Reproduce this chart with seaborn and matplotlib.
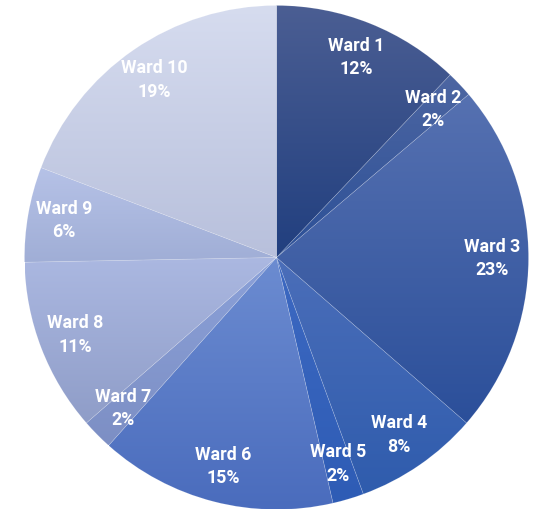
import matplotlib
matplotlib.use("Agg")
import matplotlib.pyplot as plt
import seaborn as sns
import numpy as np
from matplotlib.colors import to_rgb

wards = ['Ward 1', 'Ward 2', 'Ward 3', 'Ward 4', 'Ward 5',
         'Ward 6', 'Ward 7', 'Ward 8', 'Ward 9', 'Ward 10']
shares = [12.1, 1.7, 22.6, 8.0, 2.0, 15.2, 2.0, 11.1, 6.1, 19.2]

# gradient for each slice: colour at the top, colour at the bottom
top_colors = ['#4b5e93', '#4d66a2', '#5671b1', '#4b6eb9', '#3d69c2',
              '#6c8cd1', '#8ba1d9', '#abb8e1', '#b6c2e7', '#d6dcef']
bottom_colors = ['#213f7f', '#2c5097', '#2b4f9a', '#2f5cad', '#2e5cb5',
                 '#4a6cbd', '#7d8fc4', '#8f9dc8', '#a0aed6', '#b8c0dc']

sns.set_style("white")
plt.rcParams['font.family'] = ['Roboto', 'DejaVu Sans']

W, H = 546, 516
cx, cy, R = 276.5, 257.5, 252

fig = plt.figure(figsize=(W / 100, H / 100), dpi=100)
ax = fig.add_axes([0, 0, 1, 1])

wedges, _ = ax.pie(shares, startangle=90, counterclock=False, radius=1,
                   colors=sns.blend_palette(['#213f7f', '#d6dcef'], len(shares)),
                   wedgeprops=dict(linewidth=0))

total = sum(shares)
for w, name, v, ct, cb in zip(wedges, wards, shares, top_colors, bottom_colors):
    ext = w.get_path().get_extents()
    t = np.linspace(0, 1, 256)[:, None, None]
    grad = (1 - t) * np.array(to_rgb(ct)) + t * np.array(to_rgb(cb))
    im = ax.imshow(grad, extent=[ext.x0, ext.x1, ext.y0, ext.y1], origin='upper',
                   aspect='auto', interpolation='bilinear', zorder=2)
    im.set_clip_path(w)
    w.set_facecolor('none')
    w.set_edgecolor((1, 1, 1, 0.15))
    w.set_linewidth(0.5)
    w.set_zorder(3)

    ang = np.deg2rad((w.theta1 + w.theta2) / 2)
    r = 0.855
    ax.text(r * np.cos(ang), r * np.sin(ang), f"{name}\n{v / total * 100:.0f}%",
            ha='center', va='center', color='white', fontsize=12.8,
            fontweight='bold', linespacing=1.37, zorder=4)

ax.set_aspect('auto')
ax.set_xlim(-cx / R, (W - cx) / R)
ax.set_ylim(-(H - cy) / R, cy / R)
ax.axis('off')

fig.savefig('out.png', dpi=100)
